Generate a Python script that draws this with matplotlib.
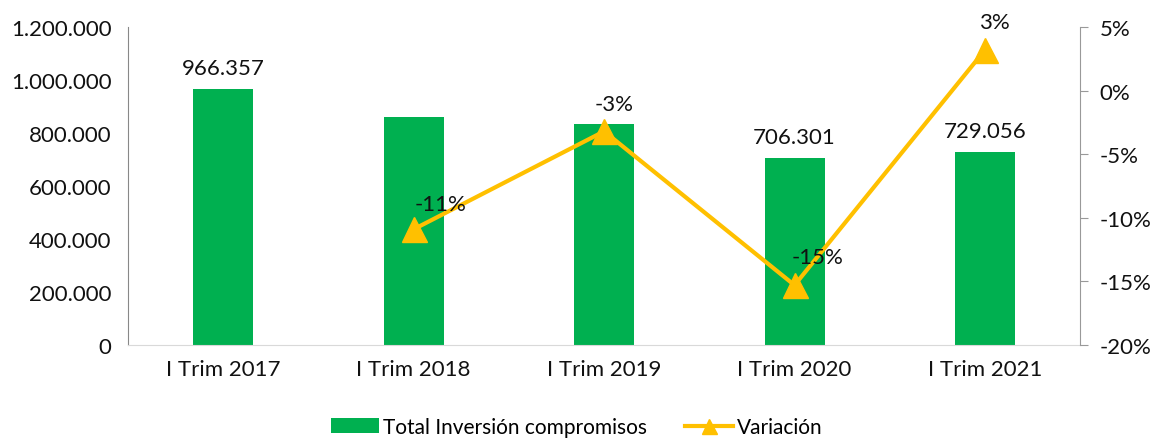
import matplotlib.pyplot as plt
from matplotlib.ticker import FuncFormatter

plt.rcParams['font.family'] = ['Lato', 'DejaVu Sans']

periodos = ["I Trim 2017", "I Trim 2018", "I Trim 2019", "I Trim 2020", "I Trim 2021"]
inversion = [966357, 861500, 834000, 706301, 729056]
variacion = [None, -10.9, -3.2, -15.3, 3.2]
mostrar_valor = [True, False, False, True, True]

verde = "#00B050"
amarillo = "#FFC000"

fig = plt.figure(figsize=(11.54, 4.39), dpi=100)
ax = fig.add_axes([0.111, 0.212, 0.825, 0.724])
ax2 = ax.twinx()

x = list(range(len(periodos)))
ax.bar(x, inversion, width=0.315, color=verde, label="Total Inversión compromisos", zorder=2)
ax.set_ylim(0, 1200000)
ax.set_xlim(-0.5, len(periodos) - 0.5)
ax.set_yticks(range(0, 1200001, 200000))
ax.yaxis.set_major_formatter(FuncFormatter(lambda v, p: f"{int(v):,}".replace(",", ".")))
ax.set_xticks(x)
ax.set_xticklabels(periodos)
ax.tick_params(axis='y', length=0, labelsize=16, pad=12, labelcolor='#111111')
ax.tick_params(axis='x', length=0, labelsize=16, pad=10, labelcolor='#111111')

for xi, v, show in zip(x, inversion, mostrar_valor):
    if show:
        ax.text(xi, v + 40000, f"{v:,}".replace(",", "."), ha='center', va='bottom',
                fontsize=16, color='#111111')

xv = [xi for xi, v in zip(x, variacion) if v is not None]
yv = [v for v in variacion if v is not None]
ax2.plot(xv, yv, color=amarillo, lw=3, marker='^', markersize=18, label="Variación", zorder=3)
ax2.set_ylim(-20, 5)
ax2.set_yticks(range(-20, 6, 5))
ax2.yaxis.set_major_formatter(FuncFormatter(lambda v, p: f"{int(v)}%"))
ax2.tick_params(axis='y', length=6, color='#999999', labelsize=16, pad=8, labelcolor='#111111')

offsets = {1: (0.14, 1.2), 2: (0.05, 1.4), 3: (0.12, 1.4), 4: (0.05, 1.4)}
for xi, v in zip(xv, yv):
    dx, dy = offsets[xi]
    ax2.text(xi + dx, v + dy, f"{round(v):d}%", ha='center', va='bottom',
             fontsize=16, color='#111111')

for a in (ax, ax2):
    a.spines['top'].set_visible(False)
    a.spines['left'].set_color('#888888')
    a.spines['right'].set_color('#999999')
    a.spines['bottom'].set_color('#d9d9d9')
ax.spines['right'].set_visible(False)
ax2.spines['left'].set_visible(False)
ax2.spines['bottom'].set_visible(False)

h1, l1 = ax.get_legend_handles_labels()
h2, l2 = ax2.get_legend_handles_labels()
fig.legend(h1 + h2, l1 + l2, loc='lower center', bbox_to_anchor=(0.5, -0.04), ncol=2,
           frameon=False, fontsize=15, handlelength=2.3, handletextpad=0.2, columnspacing=1.8,
           markerscale=0.6)

fig.savefig("out.png", dpi=100)
